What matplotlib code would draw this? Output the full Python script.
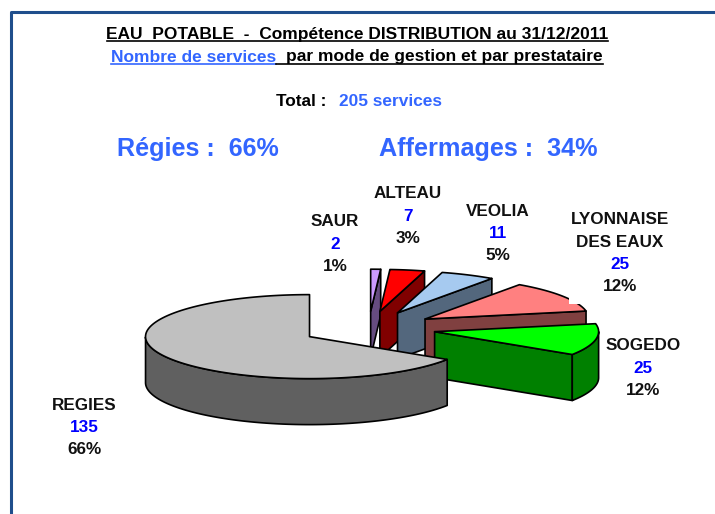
import numpy as np
import matplotlib
matplotlib.use("Agg")
import matplotlib.pyplot as plt
from matplotlib.patches import Polygon, Rectangle

plt.rcParams['font.family'] = ['Liberation Sans', 'DejaVu Sans']

categories = ["REGIES", "SOGEDO", "LYONNAISE\nDES EAUX", "VEOLIA", "ALTEAU", "SAUR"]
values = [135, 25, 25, 11, 7, 2]
percents = ["66%", "12%", "12%", "5%", "3%", "1%"]
top_colors = ["#C0C0C0", "#00FF00", "#FF8080", "#A6CAF0", "#FF0000", "#CC99FF"]
wall_colors = ["#606060", "#008000", "#804040", "#53677D", "#800000", "#664C80"]
label_pos = [(84, 405), (643, 346), (620, 220), (498, 211), (408, 194), (335, 222)]

BLUE = "#3366FF"
W, H = 715, 514
CX, CY, A, B, DEPTH, EXPLODE = 368.6, 328.4, 164, 42, 46, 0.41
START = 90.0
FS = 12.3

fig = plt.figure(figsize=(W / 100, H / 100), dpi=100)
ax = fig.add_axes([0, 0, 1, 1])
ax.set_xlim(0, W)
ax.set_ylim(H, 0)
ax.axis("off")

# frame
ax.plot([10.5, 10.5, W], [H, 12, 12], color="#1F4E8C", lw=2.2, solid_capstyle="butt", zorder=1)


def pt(ax0, ay0, deg):
    t = np.radians(deg)
    return ax0 + A * np.cos(t), ay0 - B * np.sin(t)


def poly(pts, color, z):
    ax.add_patch(Polygon(pts, closed=True, facecolor=color, edgecolor="black",
                         lw=1.2, joinstyle="round", zorder=z))


total = sum(values)
angles = START + np.concatenate([[0], np.cumsum(values)]) * 360.0 / total
slices = []
for i, v in enumerate(values):
    a0, a1 = angles[i], angles[i + 1]
    mid = np.radians((a0 + a1) / 2)
    px = CX + EXPLODE * A * np.cos(mid)
    py = CY - EXPLODE * B * np.sin(mid)
    slices.append((i, a0, a1, px, py))

# Painter's order: from the back slice to the front one
order = [5, 4, 3, 2, 1, 0]
z = 5
for i in order:
    _, a0, a1, px, py = slices[i]
    # cut faces
    for ang, vis in ((a0, np.cos(np.radians(a0)) > 0.01), (a1, np.cos(np.radians(a1)) < -0.01)):
        if vis:
            ex, ey = pt(px, py, ang)
            poly([(px, py), (ex, ey), (ex, ey + DEPTH), (px, py + DEPTH)], wall_colors[i], z)
            z += 1
    # outer wall: the part of the arc in the lower half of the ellipse
    th = np.linspace(a0, a1, 200)
    th = th[np.sin(np.radians(th)) <= 0]
    if len(th) > 1:
        ox, oy = pt(px, py, th)
        pts = list(zip(ox, oy)) + list(zip(ox[::-1], oy[::-1] + DEPTH))
        poly(pts, wall_colors[i], z)
        z += 1
    # top face
    th = np.linspace(a0, a1, 200)
    ox, oy = pt(px, py, th)
    poly([(px, py)] + list(zip(ox, oy)), top_colors[i], z)
    z += 1

# small white notch left by the label box in the reference
ax.add_patch(Rectangle((569, 297), 15, 7, facecolor="white", edgecolor="none", zorder=z))
z += 1

# slice labels
LINE = 22.3
for name, v, p, (lx, ly) in zip(categories, values, percents, label_pos):
    y = ly
    for line in name.split("\n"):
        ax.text(lx, y, line, ha="center", va="center", fontsize=FS, fontweight="bold", color="#111111", zorder=z)
        y += LINE
    ax.text(lx, y, str(v), ha="center", va="center", fontsize=FS, fontweight="bold", color="#0000FF", zorder=z)
    y += LINE
    ax.text(lx, y, p, ha="center", va="center", fontsize=FS, fontweight="bold", color="#111111", zorder=z)

# titles
ax.text(357.5, 34, "EAU  POTABLE  -  Compétence DISTRIBUTION au 31/12/2011", ha="center", va="center",
        fontsize=12.5, fontweight="bold", color="black")
ax.plot([107, 608], [40.5, 40.5], color="black", lw=1.2)
ax.text(111, 57, "Nombre de services", ha="left", va="center", fontsize=12.5, fontweight="bold", color=BLUE)
ax.text(603, 57, "par mode de gestion et par prestataire", ha="right", va="center",
        fontsize=12.5, fontweight="bold", color="black")
ax.plot([111, 276], [63.5, 63.5], color=BLUE, lw=1.2)
ax.plot([276, 603], [63.5, 63.5], color="black", lw=1.2)
ax.text(276, 101, "Total :", ha="left", va="center", fontsize=12.4, fontweight="bold", color="black")
ax.text(339, 101, "205 services", ha="left", va="center", fontsize=12.4, fontweight="bold", color=BLUE)
ax.text(117, 149, "Régies :  66%", ha="left", va="center", fontsize=18.1, fontweight="bold", color=BLUE)
ax.text(379, 149, "Affermages :  34%", ha="left", va="center", fontsize=18.2, fontweight="bold", color=BLUE)

fig.savefig("out.png", dpi=100, facecolor="white")
